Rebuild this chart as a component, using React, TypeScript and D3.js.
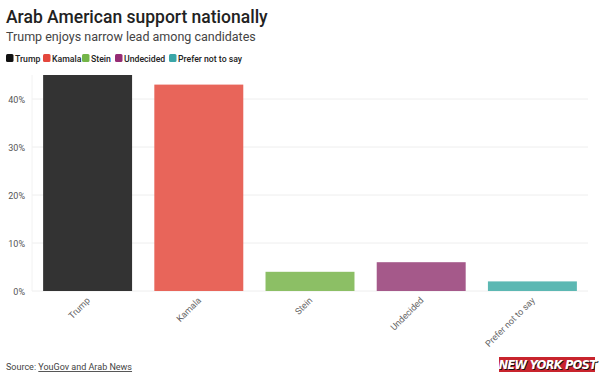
import React from "react";
import * as d3 from "d3";

const categories = ["Trump", "Kamala", "Stein", "Undecided", "Prefer not to say"];
const values = [45, 43, 4, 6, 2];
const barColors = ["#333333", "#e8655a", "#8cbf65", "#a5598a", "#5cb8b3"];
const legendColors = ["#111111", "#e4473d", "#74b548", "#962c75", "#3aa6a8"];
const yTicks = [0, 10, 20, 30, 40];

const W = 600, H = 382;
const M = { left: 32, right: 12, top: 68, bottom: 91 };
const FONT = "Roboto, 'Noto Sans', sans-serif";
const legendX = [6, 43, 82, 115, 169];

export default function App() {
  const x = d3.scaleBand<string>().domain(categories).range([M.left, W - M.right]).paddingInner(0.2).paddingOuter(0.1);
  const y = d3.scaleLinear().domain([0, 45]).range([H - M.bottom, H - M.bottom - 216]);

  return (
    <svg width={W} height={H} style={{ position: "absolute", left: 0, top: 0, fontFamily: FONT }}>
      <rect width={W} height={H} fill="#fff" />
      <text x={6} y={23} fontSize={17.5} fontWeight={500} fill="#222">Arab American support nationally</text>
      <text x={6} y={41} fontSize={12.5} fill="#444">Trump enjoys narrow lead among candidates</text>
      {categories.map((c, i) => (
        <g key={c} transform={`translate(${legendX[i]},0)`}>
          <rect x={0} y={54} width={7.5} height={8} rx={1.5} fill={legendColors[i]} />
          <text x={9} y={61.5} fontSize={8.7} fontWeight={500} fill="#222">{c}</text>
        </g>
      ))}
      {yTicks.map((t) => (
        <g key={t}>
          <line x1={M.left} x2={W - M.right} y1={y(t)} y2={y(t)} stroke="#eeeeee" strokeWidth={1} />
          <text x={25} y={y(t) + 3.5} fontSize={9} fill="#555" textAnchor="end">{t}%</text>
        </g>
      ))}
      <line x1={M.left} x2={M.left} y1={y(45)} y2={y(0)} stroke="#f2f2f2" />
      {categories.map((c, i) => (
        <rect key={c} x={x(c)} y={y(values[i])} width={x.bandwidth()} height={y(0) - y(values[i])} fill={barColors[i]} />
      ))}
      {categories.map((c) => {
        const cx = (x(c) as number) + x.bandwidth() / 2;
        return (
          <text key={c} transform={`translate(${cx + 3},${y(0) + 10}) rotate(-45)`} fontSize={9} fill="#666" textAnchor="end">{c}</text>
        );
      })}
      <text x={6} y={370} fontSize={9} fill="#444">Source: <tspan textDecoration="underline">YouGov and Arab News</tspan></text>
      <g>
        <rect x={499} y={357} width={96} height={15} fill="#c8242d" />
        <text x={547.5} y={369} fontSize={12.5} fontWeight={900} fontStyle="italic" fill="#111" textAnchor="middle" fontFamily="'DejaVu Sans Condensed', 'Liberation Sans Narrow', sans-serif" letterSpacing={-0.6} transform="translate(0.8,0.8)">NEW YORK POST</text>
        <text x={547.5} y={369} fontSize={12.5} fontWeight={900} fontStyle="italic" fill="#fff" textAnchor="middle" fontFamily="'DejaVu Sans Condensed', 'Liberation Sans Narrow', sans-serif" letterSpacing={-0.6}>NEW YORK POST</text>
      </g>
    </svg>
  );
}
